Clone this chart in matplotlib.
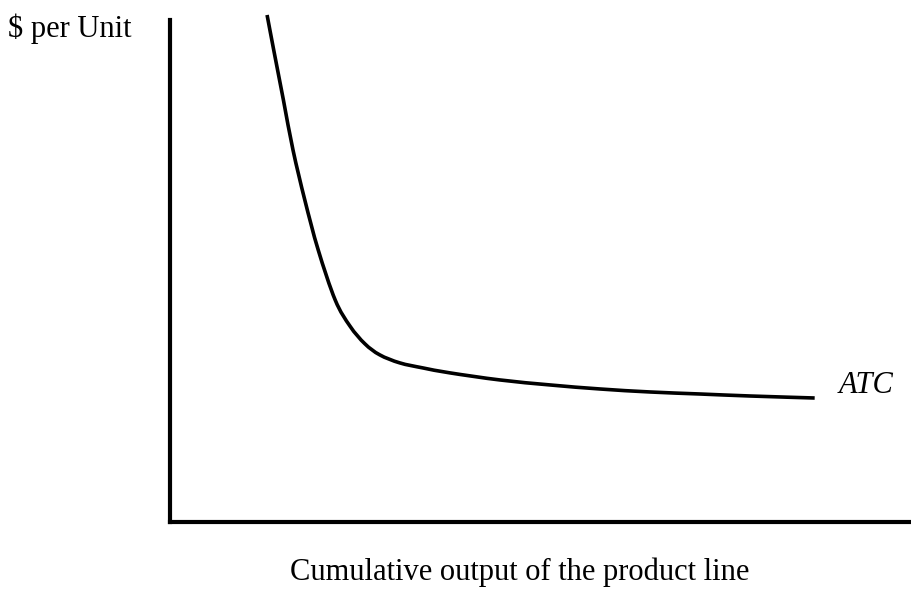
import numpy as np
import matplotlib.pyplot as plt
from matplotlib.path import Path
from matplotlib.patches import PathPatch

# ATC curve (abstract units, axes run 0..10)
output = [1.31, 1.40, 1.53, 1.66, 1.82, 2.00, 2.23, 2.43, 2.63, 2.83,
          3.10, 3.41, 3.78, 4.45, 5.13, 5.80, 6.48, 7.15, 7.83, 8.70]
cost = [10.10, 9.40, 8.41, 7.41, 6.41, 5.42, 4.42, 3.90, 3.55, 3.33,
        3.17, 3.07, 2.97, 2.83, 2.73, 2.65, 2.59, 2.55, 2.51, 2.47]


def smooth_path(xs, ys):
    # Catmull-Rom through the points, drawn as cubic Bezier segments
    p = np.column_stack([xs, ys])
    pts = np.vstack([p[0], p, p[-1]])
    verts = [p[0]]
    codes = [Path.MOVETO]
    for i in range(1, len(pts) - 2):
        c1 = pts[i] + (pts[i + 1] - pts[i - 1]) / 6
        c2 = pts[i + 1] - (pts[i + 2] - pts[i]) / 6
        verts += [c1, c2, pts[i + 1]]
        codes += [Path.CURVE4] * 3
    return Path(verts, codes)


W, H = 911, 589
fig = plt.figure(figsize=(W / 100, H / 100), dpi=100)
ax = fig.add_axes([170 / W, (H - 522) / H, (W - 170) / W, (522 - 20) / H])

ax.add_patch(PathPatch(smooth_path(output, cost), fill=False, color="black",
                       lw=2.6, capstyle="butt", clip_on=False))

ax.set_xlim(0, 10)
ax.set_ylim(0, 10)
ax.spines["top"].set_visible(False)
ax.spines["right"].set_visible(False)
ax.spines["left"].set_linewidth(3)
ax.spines["bottom"].set_linewidth(3)
ax.set_xticks([])
ax.set_yticks([])

font = {"family": "Liberation Serif", "size": 22}
fig.text(8 / W, 1 - 37 / H, "$ per Unit", va="baseline", ha="left", **font)
fig.text(839 / W, 1 - 393 / H, "ATC", va="baseline", ha="left",
         style="italic", **font)
fig.text(520 / W, 1 - 580 / H, "Cumulative output of the product line",
         va="baseline", ha="center", **font)

plt.savefig("out.png", dpi=100)
